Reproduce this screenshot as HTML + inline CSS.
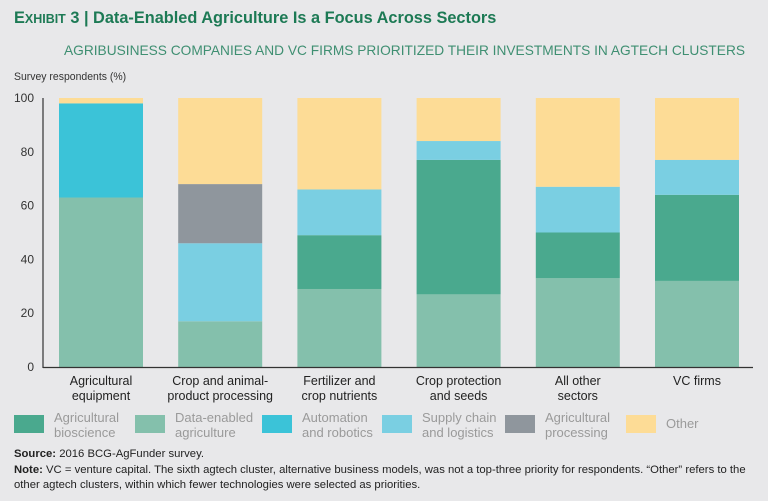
<!DOCTYPE html>
<html><head><meta charset="utf-8"><style>
body{margin:0;background:#e8e8ea;font-family:"Liberation Sans",sans-serif;}
#wrap{position:relative;width:768px;height:501px;overflow:hidden;background:#e8e8ea;}
.t{position:absolute;white-space:nowrap;}
</style></head><body>
<div id="wrap">
<div class="t" style="left:14px;top:8px;font-size:17px;font-weight:bold;color:#1d7a55;transform:scaleX(0.96);transform-origin:left">E<span style="font-size:13px">XHIBIT</span> 3 | Data-Enabled Agriculture Is a Focus Across Sectors</div>
<div class="t" style="left:64px;top:42px;font-size:14px;color:#3f8f72;transform:scaleX(0.98);transform-origin:left">AGRIBUSINESS COMPANIES AND VC FIRMS PRIORITIZED THEIR INVESTMENTS IN AGTECH CLUSTERS</div>
<div class="t" style="left:14px;top:71px;font-size:11px;color:#333;transform:scaleX(0.95);transform-origin:left">Survey respondents (%)</div>
<svg id="chart" width="768" height="501" style="position:absolute;left:0;top:0"></svg>
<div class="t" style="left:14px;top:447px;font-size:11.3px;color:#222;line-height:15.5px;transform:scaleX(1.0);transform-origin:left"><b>Source:</b> 2016 BCG-AgFunder survey.<br><b>Note:</b> VC = venture capital. The sixth agtech cluster, alternative business models, was not a top-three priority for respondents. “Other” refers to the<br>other agtech clusters, within which fewer technologies were selected as priorities.</div>
</div>
<script>
const categories=[["Agricultural","equipment"],["Crop and animal-","product processing"],["Fertilizer and","crop nutrients"],["Crop protection","and seeds"],["All other","sectors"],["VC firms"]];
const dataEnabled=[63,17,29,27,33,32];
const bioscience=[0,0,20,50,17,32];
const automation=[35,0,0,0,0,0];
const supplyChain=[0,29,17,7,17,13];
const processing=[0,22,0,0,0,0];
const other=[2,32,34,16,33,23];
const yTicks=[0,20,40,60,80,100];
const seriesNames=[["Agricultural","bioscience"],["Data-enabled","agriculture"],["Automation","and robotics"],["Supply chain","and logistics"],["Agricultural","processing"],["Other"]];
const NS="http://www.w3.org/2000/svg";
const svg=document.getElementById('chart');
const y0=367,y100=98;
function yS(v){return y0-(y0-y100)*v/100;}
function xS(i){return 59+i*119.2;}
const bw=84;
function mk(tag,attrs){const e=document.createElementNS(NS,tag);for(const k in attrs)e.setAttribute(k,attrs[k]);svg.appendChild(e);return e;}
const stack=[{d:dataEnabled,c:"#84c0ac",n:"data-enabled"},{d:bioscience,c:"#4aa98e",n:"bioscience"},{d:automation,c:"#3bc3d8",n:"automation"},{d:supplyChain,c:"#7acfe2",n:"supply-chain"},{d:processing,c:"#8f969d",n:"processing"},{d:other,c:"#fddc96",n:"other"}];
categories.forEach((cat,i)=>{
 let acc=0;
 stack.forEach(s=>{
  const v=s.d[i];if(v<=0)return;
  const r=mk('rect',{x:xS(i),y:yS(acc+v),width:bw,height:yS(acc)-yS(acc+v),fill:s.c});
  
  
  acc+=v;
 });
 cat.forEach((line,j)=>{
  const t=mk('text',{x:xS(i)+bw/2,y:385+j*15,'text-anchor':'middle','font-size':12.5,fill:'#222','font-family':'Liberation Sans'});
  t.textContent=line;
  
  
 });
});
yTicks.forEach(v=>{
 const t=mk('text',{x:34,y:yS(v)+4,'text-anchor':'end','font-size':12,fill:'#333','font-family':'Liberation Sans'});
 t.textContent=v;
 
 
});
const ya=mk('line',{x1:43,y1:y100,x2:43,y2:y0+1,stroke:'#333','stroke-width':1.2});


const xa=mk('line',{x1:43,y1:y0+0.5,x2:753,y2:y0+0.5,stroke:'#333','stroke-width':1.2});


const legCols=["#4aa98e","#84c0ac","#3bc3d8","#7acfe2","#8f969d","#fddc96"];
const legX=[14,135,262,382,505,626];
seriesNames.forEach((nm,i)=>{
 const r=mk('rect',{x:legX[i],y:415,width:30,height:18,fill:legCols[i]});
 
 
 nm.forEach((line,j)=>{
  const t=mk('text',{x:legX[i]+40,y:(nm.length==1?428:422+j*15),'font-size':13,fill:'#9a9a9a','font-family':'Liberation Sans'});
  t.textContent=line;
  
  
 });
});
</script>
</body></html>
